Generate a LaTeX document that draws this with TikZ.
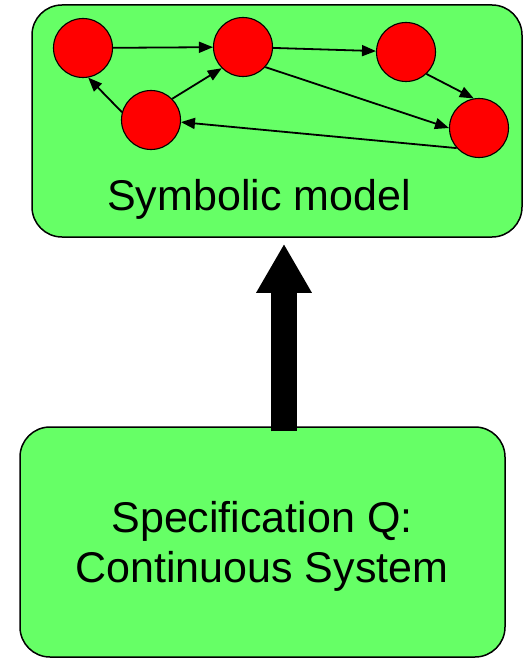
\documentclass[tikz,border=0pt]{standalone}
\usepackage{fontspec}
\setmainfont{Liberation Sans}
\usetikzlibrary{arrows.meta,positioning,calc}
\definecolor{boxgreen}{RGB}{102,255,102}
\definecolor{statered}{RGB}{255,0,0}

\begin{document}
\begin{tikzpicture}[
  x=1pt, y=-1pt,
  panel/.style={rectangle, draw=black, line width=1.5pt, fill=boxgreen,
                rounded corners=30pt, inner sep=0pt},
  state/.style={circle, draw=black, line width=1.1pt, fill=statered,
                minimum size=59pt, inner sep=0pt},
  trans/.style={-{Triangle[length=14pt,width=11pt]}, line width=1.8pt},
  refine/.style={-{Triangle[length=49pt,width=52pt]}, line width=26pt},
  lbl/.style={font=\fontsize{43}{50}\selectfont, align=center}
]
\useasboundingbox (0,0) rectangle (523,658);

% the two boxes
\node[panel, minimum width=490pt, minimum height=232pt] (symb) at (277,121) {};
\node[panel, minimum width=485pt, minimum height=230pt] (spec) at (262.5,542) {};
\node[lbl, anchor=base] (symbtxt) at (259,210) {Symbolic model};
\node[lbl] (spectxt) at (262,546) {Specification Q:\\Continuous System};

% states of the symbolic model
\node[state] (s1) at (83,48)   {};
\node[state] (s2) at (243,47)  {};
\node[state] (s3) at (406,52)  {};
\node[state] (s4) at (479,128) {};
\node[state] (s5) at (151,120) {};

\draw[trans] (s1)     -- (s2);
\draw[trans] (s2)     -- (s3);
\draw[trans] (s3.-47) -- (s4.100);
\draw[trans] (s2.-42) -- (s4.180);
\draw[trans] (s4.222) -- (s5.-4);
\draw[trans] (s5.165) -- (s1.-80);
\draw[trans] (s5.45)  -- (s2.225);

% abstraction step
\draw[refine] ($(spec.north)+(21.5,5)$) -- ($(symb.south)+(7,6)$);
\end{tikzpicture}
\end{document}
